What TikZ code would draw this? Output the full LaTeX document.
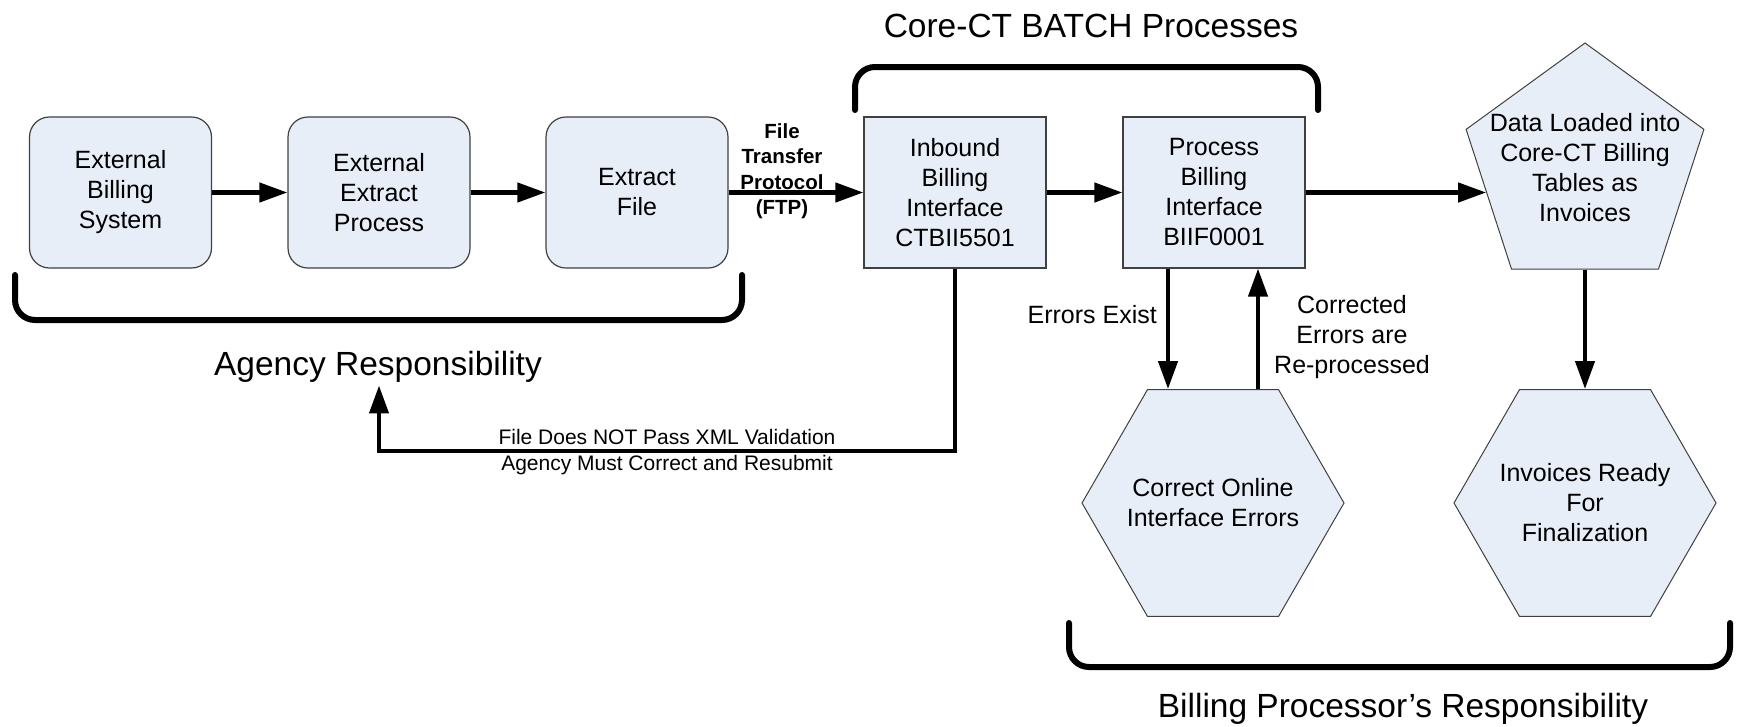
\documentclass[tikz,border=0pt]{standalone}
\usepackage{fontspec}
\setmainfont{Liberation Sans}
\usetikzlibrary{arrows.meta,shapes.geometric}
\definecolor{boxfill}{RGB}{232,238,248}
\definecolor{bordc}{RGB}{64,64,64}
\newcommand{\boxfont}{\fontsize{25}{30}\selectfont}
\newcommand{\ttlfont}{\fontsize{33.5}{40}\selectfont}
\begin{document}
\begin{tikzpicture}[x=1pt,y=-1pt,
  rbox/.style={draw=bordc, fill=boxfill, line width=1.2pt, rounded corners=20pt,
    minimum width=182pt, minimum height=151pt, inner sep=0pt, align=center, font=\boxfont},
  sbox/.style={draw=bordc, fill=boxfill, line width=1.2pt,
    minimum width=182pt, minimum height=151pt, inner sep=0pt, align=center, font=\boxfont},
  pentshape/.style={regular polygon, regular polygon sides=5, minimum size=250pt,
    draw=bordc, fill=boxfill, line width=1pt, inner sep=0pt},
  hexshape/.style={regular polygon, regular polygon sides=6, minimum size=262pt,
    draw=bordc, fill=boxfill, line width=1pt, inner sep=0pt},
  intext/.style={font=\boxfont, align=center},
  arr/.style={line width=4.3pt, -{Triangle[length=28pt,width=19pt]}},
  brk/.style={line width=6pt, rounded corners=20pt, line cap=round},
  ttl/.style={font=\ttlfont},
  lbl/.style={font=\boxfont, align=center, inner sep=0pt}
]
\useasboundingbox (0,0) rectangle (1737,726);

% boxes
\node[rbox] (b1) at (120.5,192.5) {External\\Billing\\System};
\node[rbox] (b2) at (379,192.5) {External\\Extract\\Process};
\node[rbox] (b3) at (637,192.5) {Extract\\File};
\node[sbox] (inb) at (955,192.5) {Inbound\\Billing\\Interface\\CTBII5501};
\node[sbox] (proc) at (1214,192.5) {Process\\Billing\\Interface\\BIIF0001};
\node[pentshape, label={[intext]center:Data Loaded into\\Core-CT Billing\\Tables as\\Invoices}] (pent) at (1585,168) {};
\node[hexshape, label={[intext]center:Correct Online\\Interface Errors}] (hex1) at (1213,503) {};
\node[hexshape, label={[intext]center:Invoices Ready\\For\\Finalization}] (hex2) at (1585,503) {};

% titles
\node[ttl, anchor=base] (ttop) at (1091,37) {Core-CT BATCH Processes};
\node[ttl, anchor=base] (agency) at (378,375) {Agency Responsibility};
\node[ttl, anchor=base] (tbot) at (1403,717) {Billing Processor’s Responsibility};

% brackets
\draw[brk] (15,275) |- (742,320) -- (742,275);
\draw[brk] (855,110) |- (1318,67) -- (1318,110);
\draw[brk] (1069,623) |- (1730,667) -- (1730,623);

% connectors
\draw[arr] (b1) -- (b2);
\draw[arr] (b2) -- (b3);
\draw[arr] (b3) -- (inb);
\draw[arr] (inb) -- (proc);
\draw[arr] (proc.east) -- (proc.east -| pent.194);
\draw[arr] (pent.south) -- (hex2.north);
\draw[arr] ([xshift=-46pt]proc.south) -- ([xshift=-46pt]proc.south |- hex1.north);
\draw[arr] ([xshift=44pt]proc.south |- hex1.north) -- ([xshift=44pt]proc.south);
\coordinate (turn) at (379,451);
\draw[arr] (inb.south) |- (turn) -- (turn |- agency.south);

% labels
\node[font=\fontsize{20.5}{25.5}\selectfont\bfseries, align=center, inner sep=0pt] (ftp) at (782,171) {File\\Transfer\\Protocol\\(FTP)};
\node[lbl, anchor=base east] (errex) at (1157,323) {Errors Exist};
\node[lbl] (corr) at (1352,337) {Corrected\\Errors are\\Re-processed};
\node[font=\fontsize{21}{25.5}\selectfont, align=center, inner sep=0pt] (xml) at (667,452) {File Does NOT Pass XML Validation\\Agency Must Correct and Resubmit};
\end{tikzpicture}
\end{document}
